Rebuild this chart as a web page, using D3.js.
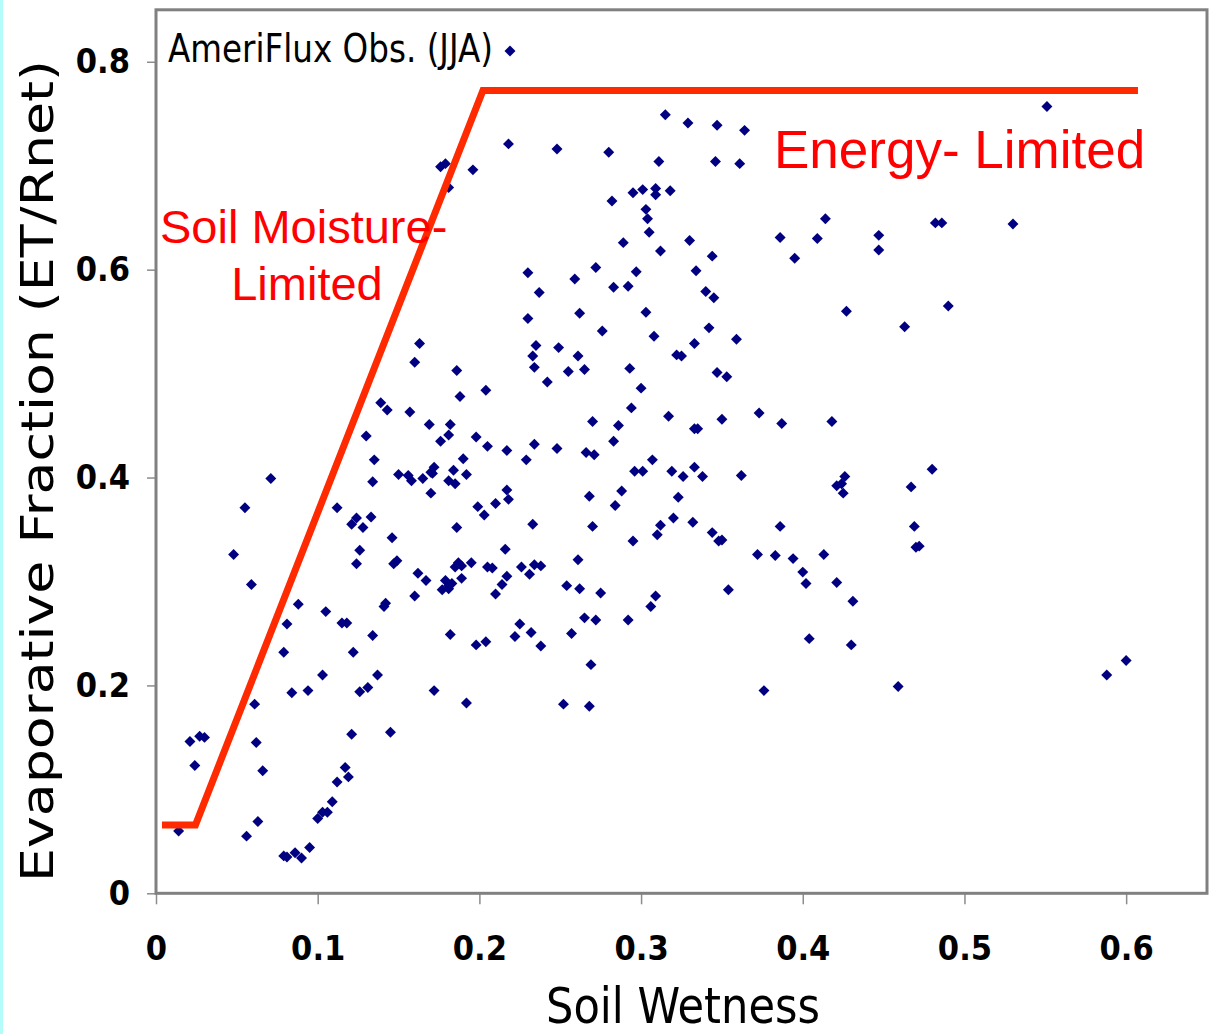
<!DOCTYPE html>
<html>
<head>
<meta charset="utf-8">
<script src="https://cdn.jsdelivr.net/npm/d3@7/dist/d3.min.js"></script>
<style>
  body { margin: 0; background: #fff; }
  svg { display: block; }
</style>
</head>
<body>
<svg width="1213" height="1034"></svg>
<script>
// axis ticks
const xTicks = [0, 0.1, 0.2, 0.3, 0.4, 0.5, 0.6];
const xTickLabels = ["0", "0.1", "0.2", "0.3", "0.4", "0.5", "0.6"];
const yTicks = [0, 0.2, 0.4, 0.6, 0.8];
const yTickLabels = ["0", "0.2", "0.4", "0.6", "0.8"];

// AmeriFlux JJA observations: soil wetness vs evaporative fraction
const soilWetness = [
  0.176, 0.179, 0.181, 0.196, 0.218,
  0.315, 0.329, 0.347, 0.364, 0.248, 0.280, 0.311, 0.346, 0.361, 0.282,
  0.295, 0.301, 0.309, 0.309, 0.318, 0.303, 0.304, 0.305, 0.289, 0.312,
  0.330, 0.344, 0.414, 0.386, 0.409, 0.395, 0.230, 0.237, 0.259, 0.272,
  0.283, 0.292, 0.297, 0.334, 0.340, 0.345, 0.230, 0.262, 0.276, 0.303,
  0.308, 0.342, 0.333, 0.359, 0.235, 0.233, 0.234, 0.249, 0.261, 0.255,
  0.265, 0.242, 0.293, 0.300, 0.322, 0.325, 0.347, 0.353,
  0.551, 0.447, 0.447, 0.482, 0.486, 0.530, 0.427, 0.463, 0.490, 0.467,
  0.480, 0.469, 0.470, 0.472, 0.600, 0.588,
  0.163, 0.160, 0.186, 0.188, 0.204, 0.139, 0.143, 0.157, 0.169, 0.182,
  0.181, 0.176, 0.198, 0.205, 0.130, 0.135, 0.134, 0.150, 0.156, 0.158,
  0.165, 0.170, 0.172, 0.171, 0.190, 0.184, 0.192, 0.181, 0.185, 0.170,
  0.071, 0.055, 0.048, 0.059, 0.112, 0.124, 0.121, 0.128, 0.133, 0.146,
  0.126, 0.124, 0.147, 0.149, 0.162, 0.167, 0.160, 0.186, 0.199, 0.203,
  0.210, 0.185, 0.187, 0.189, 0.195, 0.189, 0.179, 0.181, 0.183, 0.177,
  0.181, 0.205, 0.208, 0.210, 0.088, 0.105, 0.142, 0.141,
  0.115, 0.118, 0.081, 0.079, 0.084, 0.094, 0.103, 0.122, 0.134, 0.137,
  0.126, 0.131, 0.121, 0.145, 0.182, 0.198, 0.204, 0.222, 0.225, 0.232,
  0.238, 0.172, 0.192, 0.061, 0.062, 0.066, 0.021, 0.027, 0.030, 0.024,
  0.063, 0.056, 0.014, 0.117, 0.119, 0.112, 0.109, 0.103, 0.106, 0.100,
  0.095, 0.079, 0.081, 0.086, 0.090,
  0.294, 0.270, 0.286, 0.283, 0.317, 0.350, 0.373, 0.387, 0.418, 0.333,
  0.335, 0.217, 0.229, 0.234, 0.248, 0.266, 0.271, 0.307, 0.296, 0.301,
  0.319, 0.326, 0.333, 0.338, 0.362, 0.426, 0.421, 0.424, 0.425, 0.217,
  0.218, 0.268, 0.288, 0.284, 0.323, 0.233, 0.270, 0.295, 0.312, 0.310,
  0.320, 0.332, 0.344, 0.350, 0.348, 0.386, 0.216, 0.261, 0.226, 0.231,
  0.234, 0.238, 0.217, 0.214, 0.254, 0.262, 0.275, 0.309, 0.306, 0.354,
  0.372, 0.383, 0.394, 0.413, 0.400, 0.402, 0.421, 0.431, 0.257, 0.265,
  0.272, 0.292, 0.269, 0.252, 0.268, 0.376, 0.404, 0.430, 0.459
];
const evapFraction = [
  0.699, 0.702, 0.679, 0.696, 0.721,
  0.749, 0.741, 0.739, 0.734, 0.716, 0.713, 0.704, 0.704, 0.702, 0.666,
  0.674, 0.677, 0.678, 0.672, 0.676, 0.658, 0.649, 0.636, 0.626, 0.618,
  0.628, 0.613, 0.649, 0.631, 0.630, 0.611, 0.597, 0.578, 0.591, 0.602,
  0.583, 0.584, 0.598, 0.599, 0.579, 0.573, 0.553, 0.558, 0.541, 0.559,
  0.536, 0.544, 0.529, 0.533, 0.527, 0.517, 0.506, 0.525, 0.517, 0.502,
  0.504, 0.492, 0.505, 0.486, 0.518, 0.517, 0.501, 0.497,
  0.757, 0.633, 0.619, 0.645, 0.645, 0.644, 0.560, 0.545, 0.565, 0.391,
  0.408, 0.353, 0.333, 0.334, 0.224, 0.210,
  0.529, 0.511, 0.503, 0.478, 0.484, 0.472, 0.465, 0.463, 0.451, 0.451,
  0.441, 0.435, 0.439, 0.430, 0.440, 0.417, 0.396, 0.403, 0.402, 0.397,
  0.399, 0.405, 0.410, 0.404, 0.418, 0.407, 0.403, 0.397, 0.394, 0.385,
  0.399, 0.371, 0.326, 0.297, 0.371, 0.361, 0.355, 0.352, 0.362, 0.342,
  0.330, 0.317, 0.317, 0.320, 0.308, 0.301, 0.286, 0.352, 0.372, 0.364,
  0.375, 0.314, 0.318, 0.315, 0.318, 0.303, 0.301, 0.296, 0.298, 0.292,
  0.293, 0.314, 0.313, 0.288, 0.278, 0.271, 0.279, 0.276,
  0.260, 0.260, 0.259, 0.232, 0.193, 0.195, 0.210, 0.232, 0.248, 0.210,
  0.194, 0.198, 0.153, 0.155, 0.249, 0.239, 0.242, 0.247, 0.259, 0.251,
  0.238, 0.195, 0.183, 0.182, 0.145, 0.118, 0.146, 0.151, 0.150, 0.123,
  0.069, 0.055, 0.060, 0.121, 0.112, 0.107, 0.088, 0.078, 0.078, 0.072,
  0.044, 0.036, 0.035, 0.039, 0.034,
  0.467, 0.454, 0.450, 0.435, 0.459, 0.456, 0.462, 0.452, 0.454, 0.447,
  0.447, 0.426, 0.417, 0.432, 0.428, 0.424, 0.422, 0.417, 0.406, 0.406,
  0.406, 0.401, 0.410, 0.401, 0.402, 0.401, 0.392, 0.394, 0.385, 0.388,
  0.379, 0.382, 0.387, 0.373, 0.381, 0.355, 0.353, 0.339, 0.354, 0.345,
  0.361, 0.357, 0.347, 0.340, 0.339, 0.353, 0.331, 0.321, 0.314, 0.307,
  0.316, 0.315, 0.305, 0.297, 0.296, 0.293, 0.289, 0.286, 0.276, 0.292,
  0.326, 0.325, 0.322, 0.326, 0.309, 0.298, 0.299, 0.281, 0.250, 0.265,
  0.263, 0.263, 0.220, 0.182, 0.180, 0.195, 0.245, 0.239, 0.199
];

// conceptual regime line (soil-moisture-limited -> energy-limited)
const regimeX = [0.0037, 0.0244, 0.2022, 0.6073];
const regimeY = [0.0657, 0.0657, 0.7724, 0.7724];

const svg = d3.select("svg");

svg.append("rect").attr("width", 1213).attr("height", 1034).attr("fill", "#fff");
// thin cyan strip on the slide edge
svg.append("rect").attr("x", 0).attr("y", 0).attr("width", 3).attr("height", 1034).attr("fill", "#b4fbfb");

const x = d3.scaleLinear().domain([0, 0.65]).range([156, 1207]);
const y = d3.scaleLinear().domain([0, 0.85]).range([893.3, 9.8]);

// x axis
const xAxis = svg.append("g")
  .attr("transform", "translate(0," + y(0) + ")")
  .call(d3.axisBottom(x).tickValues(xTicks).tickFormat((d, i) => xTickLabels[i]).tickSize(11).tickPadding(32));

// y axis
const yAxis = svg.append("g")
  .attr("transform", "translate(" + x(0) + ",0)")
  .call(d3.axisLeft(y).tickValues(yTicks).tickFormat((d, i) => yTickLabels[i]).tickSize(9).tickPadding(17));

[xAxis, yAxis].forEach(a => {
  a.select(".domain").remove();
  a.selectAll(".tick line").attr("stroke", "#8c8c8c").attr("stroke-width", 1.5);
  a.selectAll(".tick text")
    .attr("fill", "#000")
    .attr("font-family", "DejaVu Sans Condensed, DejaVu Sans")
    .attr("font-weight", "bold")
    .style("font-stretch", "condensed")
    .style("font-size", "34px");
});

// plot frame
svg.append("rect")
  .attr("x", x(0))
  .attr("y", y(0.85))
  .attr("width", x(0.65) - x(0))
  .attr("height", y(0) - y(0.85))
  .attr("fill", "none")
  .attr("stroke", "#808080")
  .attr("stroke-width", 3);

// scatter points
const diamond = d3.symbol().type(d3.symbolSquare).size(60);
svg.append("g")
  .selectAll("path")
  .data(soilWetness)
  .enter()
  .append("path")
  .attr("d", diamond)
  .attr("transform", (d, i) => "translate(" + x(d) + "," + y(evapFraction[i]) + ") rotate(45)")
  .attr("fill", "#000080");

// regime line
const line = d3.line().x(d => x(d[0])).y(d => y(d[1]));
svg.append("path")
  .attr("d", line(regimeX.map((v, i) => [v, regimeY[i]])))
  .attr("fill", "none")
  .attr("stroke", "#ff2a00")
  .attr("stroke-width", 7)
  .attr("stroke-linejoin", "miter");

// legend
svg.append("text")
  .attr("x", 168)
  .attr("y", 62)
  .attr("font-family", "DejaVu Sans")
  .style("font-size", "39px")
  .attr("textLength", 325)
  .attr("lengthAdjust", "spacingAndGlyphs")
  .text("AmeriFlux Obs. (JJA)");
svg.append("path")
  .attr("d", diamond)
  .attr("transform", "translate(510,51) rotate(45)")
  .attr("fill", "#000080");

// regime labels
svg.append("text")
  .attr("x", 160)
  .attr("y", 243)
  .attr("font-family", "Liberation Sans, Arial")
  .attr("fill", "#ff0000")
  .style("font-size", "47px")
  .text("Soil Moisture-");
svg.append("text")
  .attr("x", 307)
  .attr("y", 300)
  .attr("text-anchor", "middle")
  .attr("font-family", "Liberation Sans, Arial")
  .attr("fill", "#ff0000")
  .style("font-size", "47px")
  .text("Limited");
svg.append("text")
  .attr("x", 774)
  .attr("y", 168)
  .attr("font-family", "Liberation Sans, Arial")
  .attr("fill", "#ff0000")
  .style("font-size", "53px")
  .text("Energy- Limited");

// axis titles
svg.append("text")
  .attr("transform", "translate(53,471) rotate(-90)")
  .attr("text-anchor", "middle")
  .attr("font-family", "DejaVu Sans")
  .style("font-size", "44px")
  .attr("textLength", 822)
  .attr("lengthAdjust", "spacingAndGlyphs")
  .text("Evaporative Fraction (ET/Rnet)");
svg.append("text")
  .attr("x", 683)
  .attr("y", 1022.5)
  .attr("text-anchor", "middle")
  .attr("font-family", "DejaVu Sans Condensed, DejaVu Sans")
  .style("font-stretch", "condensed")
  .style("font-size", "50px")
  .attr("textLength", 274)
  .attr("lengthAdjust", "spacingAndGlyphs")
  .text("Soil Wetness");
</script>
</body>
</html>
